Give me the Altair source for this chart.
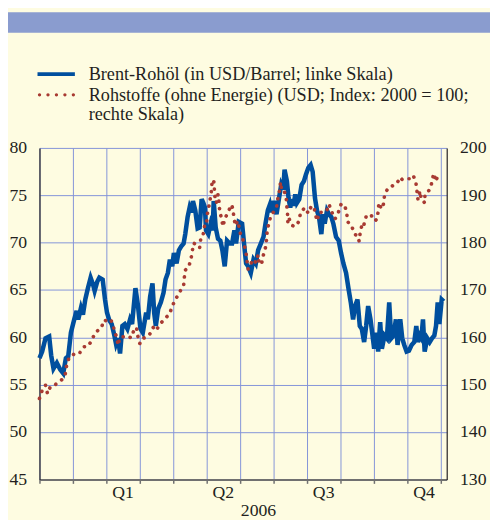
import altair as alt
import pandas as pd

# ---------------- data ----------------
# x position in months from the start of the axis (gridlines at month borders)
brent_m = [0.0,0.08,0.18,0.29,0.35,0.42,0.52,0.62,0.71,0.79,
           0.86,0.94,1.04,1.11,1.16,1.24,1.30,1.37,1.45,1.53,
           1.60,1.65,1.73,1.79,1.89,1.96,2.02,2.09,2.16,2.24,
           2.29,2.35,2.41,2.48,2.55,2.63,2.71,2.77,2.87,2.94,
           3.02,3.09,3.19,3.24,3.31,3.38,3.43,3.48,3.55,3.63,
           3.71,3.77,3.84,3.90,3.97,4.02,4.10,4.17,4.24,4.31,
           4.36,4.43,4.49,4.54,4.59,4.66,4.73,4.79,4.85,4.90,
           4.95,4.98,5.05,5.12,5.18,5.21,5.27,5.34,5.41,5.47,
           5.54,5.61,5.69,5.76,5.83,5.88,5.96,6.06,6.13,6.18,
           6.24,6.32,6.40,6.47,6.54,6.62,6.70,6.76,6.83,6.89,
           6.93,7.01,7.09,7.16,7.23,7.29,7.33,7.40,7.45,7.50,
           7.55,7.60,7.65,7.70,7.77,7.84,7.91,7.97,8.04,8.11,
           8.17,8.24,8.30,8.36,8.43,8.48,8.53,8.60,8.66,8.73,
           8.79,8.87,8.95,9.02,9.09,9.17,9.24,9.31,9.38,9.44,
           9.51,9.58,9.64,9.71,9.77,9.83,9.90,9.95,10.01,10.07,
           10.13,10.19,10.24,10.32,10.39,10.46,10.52,10.59,10.66,10.71,
           10.79,10.85,10.91,10.98,11.05,11.13,11.21,11.27,11.32,11.37,
           11.42,11.47,11.52,11.60,11.67,11.74,11.81,11.86,11.91,11.96,
           12.03,12.09]
brent_usd = [57.8,58.5,59.9,60.1,58.1,56.7,57.3,56.6,56.2,57.8,
             58.0,60.5,61.9,62.8,61.9,63.1,62.4,64.0,65.2,66.3,
             65.6,64.9,65.9,66.3,66.1,64.0,62.6,61.8,61.4,60.2,
             59.3,59.9,58.3,61.2,61.4,60.9,61.9,61.4,65.2,63.5,
             60.9,60.5,62.6,61.9,64.3,65.7,62.6,61.2,63.0,63.7,
             64.7,66.1,66.8,68.2,67.5,68.9,67.8,69.2,69.6,69.9,
             70.9,72.7,73.7,73.2,74.4,73.4,71.5,71.6,74.6,74.2,
             73.7,71.3,70.9,72.0,71.3,74.4,71.6,70.4,70.2,69.2,
             67.5,70.2,69.9,69.9,71.3,69.9,72.2,72.0,69.5,67.8,
             67.5,66.8,68.2,67.8,69.2,69.9,70.6,72.0,73.4,74.0,
             73.2,74.4,73.0,74.6,76.1,75.6,77.7,76.5,74.7,73.7,
             74.6,73.9,75.1,74.2,74.6,76.1,76.5,77.2,77.9,78.2,
             77.5,74.7,73.4,72.7,70.9,73.0,72.0,73.4,73.0,72.7,
             72.0,70.6,70.2,68.9,67.8,66.8,65.2,63.7,61.9,63.3,
             64.0,61.2,60.9,59.5,61.2,63.3,61.9,60.5,58.8,60.5,
             58.5,61.6,58.8,60.2,59.9,63.7,59.9,60.2,61.9,59.2,
             61.9,59.9,59.2,58.5,58.6,59.2,59.5,61.2,59.5,60.2,
             59.9,61.9,58.5,59.9,59.5,59.9,60.2,61.2,63.7,61.4,
             64.0,63.8]

comm_m = [0.0,0.08,0.18,0.24,0.32,0.42,0.59,0.70,0.77,0.81,
          0.88,0.98,1.06,1.21,1.33,1.47,1.58,1.68,1.84,1.94,
          2.06,2.14,2.21,2.24,2.31,2.35,2.41,2.63,2.74,2.82,
          2.90,2.94,3.00,3.06,3.21,3.30,3.40,3.48,3.61,3.74,
          3.89,3.97,4.07,4.19,4.31,4.33,4.36,4.46,4.53,4.61,
          4.69,4.79,4.82,4.87,4.92,4.95,5.00,5.02,5.08,5.12,
          5.15,5.16,5.21,5.23,5.24,5.29,5.34,5.37,5.39,5.44,
          5.49,5.54,5.64,5.74,5.79,5.81,5.86,5.93,5.98,6.03,
          6.08,6.13,6.18,6.21,6.24,6.30,6.40,6.47,6.54,6.57,
          6.64,6.69,6.76,6.79,6.81,6.86,6.93,7.03,7.09,7.13,
          7.18,7.21,7.24,7.29,7.32,7.38,7.40,7.42,7.43,7.47,
          7.52,7.57,7.62,7.67,7.76,7.81,7.94,8.04,8.13,8.21,
          8.26,8.31,8.36,8.46,8.56,8.60,8.66,8.74,8.84,8.94,
          9.02,9.12,9.19,9.21,9.34,9.44,9.51,9.56,9.59,9.64,
          9.68,9.77,9.90,10.03,10.10,10.13,10.15,10.23,10.29,10.32,
          10.42,10.49,10.56,10.69,10.79,10.85,10.98,11.08,11.18,11.26,
          11.29,11.32,11.35,11.38,11.42,11.48,11.52,11.53,11.58,11.69,
          11.74,11.79,11.86,11.91]
comm_index = [147.1,148.8,149.9,148.1,149.5,149.7,150.7,151.2,152.2,154.0,
              155.6,156.0,156.8,156.8,158.0,158.2,159.7,161.1,161.9,163.7,
              163.2,163.6,162.5,161.2,160.1,158.3,160.0,160.3,159.9,161.4,
              162.1,160.3,158.7,159.7,160.1,160.7,162.1,161.4,162.8,163.9,
              164.9,166.6,168.0,169.6,170.8,172.5,174.2,174.8,176.5,179.9,
              179.6,178.9,180.6,180.8,182.6,184.3,184.3,186.0,188.1,189.8,
              191.3,192.9,193.3,191.5,190.0,188.4,190.2,188.6,186.7,185.2,
              183.4,185.0,186.4,188.0,187.1,185.5,183.6,184.6,182.9,181.2,
              180.8,179.4,177.7,176.0,174.4,175.3,176.5,175.8,177.4,175.6,
              175.4,177.2,179.0,180.6,182.4,184.1,185.9,186.7,187.5,189.3,
              191.0,192.8,191.2,191.2,191.0,189.3,187.5,185.9,184.0,185.0,
              184.1,183.6,183.4,183.6,184.5,186.4,187.4,186.2,187.7,187.5,
              185.7,184.6,186.4,186.4,186.5,186.9,188.1,186.5,185.0,186.4,
              188.1,188.0,186.4,184.5,183.4,181.7,181.5,180.3,182.0,183.6,
              183.2,185.5,186.0,184.6,185.0,186.7,188.4,187.1,188.2,190.0,
              191.5,191.7,192.0,192.5,193.8,193.3,193.5,193.5,194.2,192.6,
              190.9,189.1,189.8,190.9,189.1,188.8,188.4,190.2,190.4,191.4,
              192.9,194.6,192.9,194.2]

month_ticks = list(range(0, 13))
quarter_labels = ["Q1", "Q2", "Q3", "Q4"]
quarter_pos = [2.5, 5.5, 8.5, 11.5]
year_label = ["2006"]
year_pos = [6.55]
left_ticks = [45, 50, 55, 60, 65, 70, 75, 80]
right_ticks = [130, 140, 150, 160, 170, 180, 190, 200]
legend_labels = ["Brent-Rohöl (in USD/Barrel; linke Skala)",
                 "Rohstoffe (ohne Energie) (USD; Index: 2000 = 100;",
                 "rechte Skala)"]

# ---------------- styling ----------------
FONT = "Liberation Serif"
TXT = "#231F20"
GRID = "#8494D8"
BLUE = "#004F9E"
RED = "#A83A32"
BG = "#FEFCE1"
HEADER = "#8A9CCF"
AXIS_GREY = "#707070"
FS = 18
FS_LEG = 18.5

W, H = 414, 337

brent = pd.DataFrame({"m": brent_m, "v": brent_usd, "o": list(range(len(brent_m)))})
comm = pd.DataFrame({"m": comm_m, "v": comm_index, "o": list(range(len(comm_m)))})
quarters = pd.DataFrame({"p": quarter_pos, "t": quarter_labels})
years = pd.DataFrame({"p": year_pos, "t": year_label})
one = pd.DataFrame({"a": [0]})

xscale = alt.Scale(domain=[0, 12.18], nice=False, zero=False)
xaxis = alt.Axis(values=month_ticks, labels=False, title=None, grid=True,
                 gridColor=GRID, gridWidth=1, gridOpacity=1, ticks=True, tickSize=4,
                 tickColor=AXIS_GREY, tickWidth=1.5, domainColor=AXIS_GREY,
                 domainWidth=2)
X = alt.X("m:Q", scale=xscale, axis=xaxis)

brent_line = alt.Chart(brent).mark_line(color=BLUE, strokeWidth=4.6).encode(
    x=X,
    y=alt.Y("v:Q", scale=alt.Scale(domain=[45, 80], nice=False, zero=False),
            axis=alt.Axis(orient="left", values=left_ticks, title=None, grid=True,
                          gridColor=GRID, gridWidth=1, gridOpacity=1, ticks=False,
                          labelPadding=13, domainColor=TXT, domainWidth=1.2,
                          labelFont=FONT, labelFontSize=FS, labelColor=TXT)),
    order="o:Q",
)

comm_line = alt.Chart(comm).mark_line(
    color=RED, strokeWidth=3.7, strokeDash=[0.1, 7.4], strokeCap="round"
).encode(
    x=X,
    y=alt.Y("v:Q", scale=alt.Scale(domain=[130, 200], nice=False, zero=False),
            axis=alt.Axis(orient="right", values=right_ticks, title=None, grid=False,
                          ticks=False, labelPadding=13, domainColor=TXT,
                          domainWidth=1.2, labelFont=FONT, labelFontSize=FS,
                          labelColor=TXT)),
    order="o:Q",
)

q_text = alt.Chart(quarters).mark_text(
    font=FONT, fontSize=FS, color=TXT, align="center", baseline="middle"
).encode(x=alt.X("p:Q", scale=xscale, axis=xaxis), y=alt.value(H + 14), text="t:N")

y_text = alt.Chart(years).mark_text(
    font=FONT, fontSize=FS, color=TXT, align="center", baseline="middle"
).encode(x=alt.X("p:Q", scale=xscale, axis=xaxis), y=alt.value(H + 32), text="t:N")

header = alt.Chart(one).mark_rect(color=HEADER).encode(
    x=alt.value(-32), x2=alt.value(458), y=alt.value(-138), y2=alt.value(-117))

leg_blue = alt.Chart(one).mark_rule(color=BLUE, strokeWidth=4).encode(
    x=alt.value(-2), x2=alt.value(36), y=alt.value(-75))
leg_red = alt.Chart(one).mark_rule(
    color=RED, strokeWidth=3.3, strokeDash=[0.1, 8.5], strokeCap="round"
).encode(x=alt.value(0), x2=alt.value(35), y=alt.value(-54))

leg_texts = []
for lbl, yy in zip(legend_labels, [-75, -54, -34]):
    leg_texts.append(
        alt.Chart(one).mark_text(text=lbl, font=FONT, fontSize=FS_LEG, color=TXT,
                                 align="left", baseline="middle")
        .encode(x=alt.value(50), y=alt.value(yy)))

chart = alt.layer(
    brent_line, comm_line, q_text, y_text, header, leg_blue, leg_red, *leg_texts
).resolve_scale(y="independent").properties(
    width=W, height=H,
    autosize=alt.AutoSizeParams(type="none"),
    padding={"left": 32, "top": 138, "right": 44, "bottom": 37},
    background=BG,
).configure_view(strokeWidth=0)

chart.save("out.html", embed_options={"renderer": "svg", "actions": False})
